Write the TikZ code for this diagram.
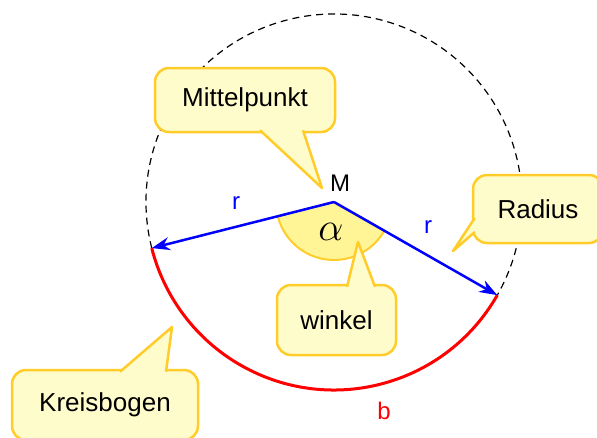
\documentclass[tikz,border=0pt]{standalone}
\usepackage{fontspec}
\setmainfont{Liberation Sans}
\usetikzlibrary{arrows.meta,calc}
\definecolor{gold}{RGB}{255,204,41}
\definecolor{boxfill}{RGB}{255,252,204}
\definecolor{wedgefill}{RGB}{255,245,150}
\begin{document}
\begin{tikzpicture}[x=1pt,y=-1pt,
  box/.style={draw=gold,fill=boxfill,line width=2.5pt,rounded corners=14pt,
    font=\fontsize{26}{30}\selectfont,inner sep=0pt},
  tail/.style={draw=gold,fill=boxfill,line width=2.5pt,line join=round},
  lab/.style={font=\fontsize{24}{28}\selectfont,inner sep=0pt},
  radline/.style={blue,line width=2.5pt,-{Stealth[length=18pt,width=13pt]}},
]
\useasboundingbox (0,0) rectangle (597,437);
\clip (0,0) rectangle (597,437);
\coordinate (M) at (334,202);
\coordinate (A) at ($(M)+(165.8:188)$);
\coordinate (B) at ($(M)+(29.7:188)$);
% circle
\draw[line width=1.2pt,dash pattern=on 7pt off 5pt] (A) arc[start angle=165.8,end angle=389.7,radius=188];
\draw[red,line width=3pt] (B) arc[start angle=29.7,end angle=165.8,radius=188];
% angle wedge
\filldraw[draw=gold,fill=wedgefill,line width=2pt] (M) -- ($(M)+(29.7:58)$) arc[start angle=29.7,end angle=165.8,radius=58] -- cycle;
% radii
\draw[radline] (M) -- (A);
\draw[radline] (M) -- (B);
% labels
\node[lab] (Mlab) at (340,183) {M};
\node[lab,text=blue] (r1) at (236,203) {r};
\node[lab,text=blue] (r2) at (428,227) {r};
\node[lab,text=red] (blab) at (384,411) {b};
\node[lab] (alab) at (331,232) {\scalebox{1.6}{$\alpha$}};
% callouts
\node[box,minimum width=180pt,minimum height=64pt] (mp) at (245,100) {Mittelpunkt};
\coordinate (tmp) at (322,188);
\filldraw[tail] ($(mp.south)+(15,-3)$) -- (tmp) -- ($(mp.south)+(58,-3)$);

\node[box,minimum width=130pt,minimum height=68pt] (rad) at (538,209) {Radius};
\coordinate (trad) at (453,251);
\filldraw[tail] ($(rad.west)+(3,9)$) -- (trad) -- ($(rad.west)+(3,23)$);

\node[box,minimum width=119pt,minimum height=70pt] (wk) at (336.5,320) {winkel};
\coordinate (twk) at (358,242);
\filldraw[tail] ($(wk.north)+(10.5,3)$) -- (twk) -- ($(wk.north)+(38.5,3)$);

\node[box,minimum width=186pt,minimum height=70pt] (kb) at (105,405) {Kreisbogen};
\coordinate (tkb) at (172,327);
\filldraw[tail] ($(kb.north)+(15,3)$) -- (tkb) -- ($(kb.north)+(61,3)$);
\end{tikzpicture}
\end{document}
